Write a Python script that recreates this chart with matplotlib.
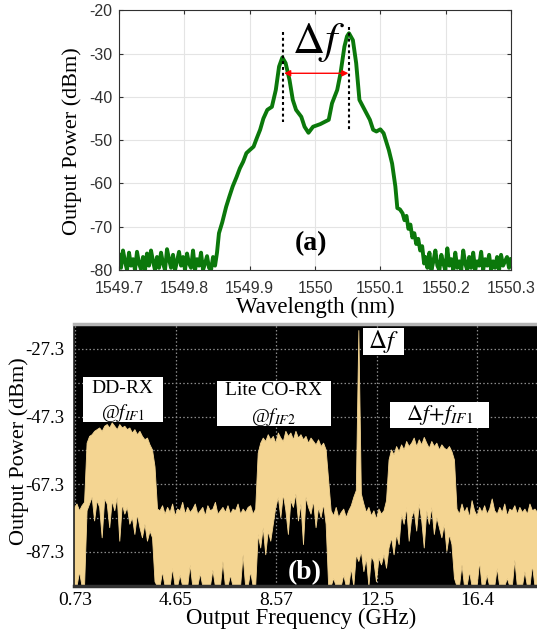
import numpy as np
import matplotlib
matplotlib.use('Agg')
import matplotlib.pyplot as plt
from matplotlib.patches import Rectangle

plt.rcParams['font.family'] = ['Liberation Serif', 'DejaVu Serif']
plt.rcParams['mathtext.fontset'] = 'stix'

# ---- (a) optical spectrum ----
# noise floor left of the signal (1549.700 .. 1549.847 nm)
noise_left = [-76.5, -79.5, -75.5, -78, -80, -76, -79, -77.5, -80, -75.8,
              -78.5, -79.8, -77, -80, -76.2, -79, -75.5, -78, -80, -77,
              -79.5, -76, -78.5, -80, -75.2, -77.5, -79.5, -76.5, -80, -78,
              -75.8, -79, -77, -80, -76.2, -78.5, -79.5, -75.5, -80, -77.5,
              -79, -76, -80, -78.5, -76.8, -79.5, -80, -77, -79]
wl_body = [1549.850, 1549.853, 1549.858, 1549.864, 1549.869, 1549.874, 1549.880,
           1549.885, 1549.890, 1549.895, 1549.900, 1549.906, 1549.911, 1549.916,
           1549.921, 1549.927, 1549.934, 1549.940, 1549.945, 1549.950, 1549.955,
           1549.961, 1549.966, 1549.971, 1549.979, 1549.984, 1549.990, 1549.997,
           1550.008, 1550.016, 1550.021, 1550.026, 1550.034, 1550.039, 1550.045,
           1550.049, 1550.052, 1550.058, 1550.063, 1550.068, 1550.076, 1550.084,
           1550.089, 1550.094, 1550.100, 1550.105, 1550.113, 1550.118, 1550.123,
           1550.126, 1550.130, 1550.134, 1550.137, 1550.140, 1550.143, 1550.146,
           1550.149, 1550.152, 1550.155, 1550.158, 1550.161, 1550.164, 1550.167]
pw_body = [-76, -71.5, -69, -65.4, -63, -60.7, -58.5,
           -56.5, -55, -53, -52.3, -51.5, -49.5, -47.6,
           -45, -43, -42.3, -38.4, -33, -30.9, -32.2,
           -36.1, -40.7, -43, -44.6, -46.9, -48.3, -46.9,
           -46.3, -45.7, -45.3, -41.5, -38.4, -34.6, -28.4,
           -26, -25.3, -26.9, -32.2, -40.7, -43, -45.3,
           -47.6, -48, -47.5, -48.4, -52.3, -55.4, -60.7,
           -65.7, -66, -66.9, -68.5, -67.5, -70.5, -69.5,
           -72.5, -71.5, -74, -72.8, -75.5, -74.5, -78.5]
# noise floor right of the signal (1550.169 .. 1550.300 nm)
noise_right = [-77, -79.5, -76, -80, -78, -75.5, -79, -80, -76.5, -78.5,
               -80, -75, -79, -77.5, -80, -76, -79.5, -78, -80, -75.5,
               -78.5, -80, -77, -79.5, -76, -80, -78, -79, -75.8, -80,
               -77.5, -79, -76.5, -80, -78, -79.5, -77, -80, -76.5, -79,
               -78, -77, -79.5, -77.5]
wl_ticks = [1549.7, 1549.8, 1549.9, 1550.0, 1550.1, 1550.2, 1550.3]
wl_ticklabels = ['1549.7', '1549.8', '1549.9', '1550', '1550.1', '1550.2', '1550.3']
pw_ticks = [-80, -70, -60, -50, -40, -30, -20]
peak_left = 1549.9507
peak_right = 1550.0522

# ---- (b) electrical spectrum (max / min hold envelopes, dBm) ----
up_edge = [-74, -73, -75, -73.5, -72.5]
lo_edge = [-97.4, -97.4, -93, -97.4, -97.4]
up_if1 = [-55, -53, -52.5, -51.5, -51, -50.5, -51.5, -50, -49.5, -50.5,
          -49, -50, -51, -49.5, -50.5, -50, -51, -50.5, -52, -51,
          -52.5, -51.5, -53, -54, -53.5, -55.5, -57, -62]
lo_if1 = [-75, -73, -71, -78, -72, -74, -83, -71.5, -73, -80,
          -72, -75, -71, -84, -73, -76, -74, -79, -77, -82,
          -76, -80, -83, -79, -84, -81, -83, -96]
up_gap1 = [-74.5, -75, -73.5, -76, -74, -75.5, -73, -76.5, -74.5, -75,
           -72.5, -76, -74, -75.5, -74.5, -73, -76, -75, -74, -76.5,
           -73.5, -75, -74.5, -72.5, -76, -75, -74, -75.5, -73.5, -76,
           -74.5, -75, -73, -76, -74.5, -75.5, -74, -73.5, -76, -74.5]
lo_gap1 = [-97.4, -97.4, -93, -97.4, -97.4, -97.4, -92, -97.4, -97.4, -94,
           -97.4, -97.4, -97.4, -91, -97.4, -97.4, -97.4, -93.5, -97.4, -97.4,
           -97.4, -97.4, -92.5, -97.4, -97.4, -97.4, -90, -97.4, -97.4, -94,
           -97.4, -97.4, -97.4, -97.4, -88, -97.4, -97.4, -93, -97.4, -97.4]
up_if2 = [-58, -55, -53.5, -54.5, -52.5, -54, -53, -55, -52, -53.5,
          -54.5, -51.5, -53, -52, -54, -51.5, -53.5, -52.5, -54, -53,
          -55, -53.5, -54.5, -55.5, -54, -56, -55, -57]
lo_if2 = [-82, -86, -80, -88, -81, -84, -79, -74, -71, -77,
          -70, -75, -82, -72, -74, -70, -78, -73, -85, -71,
          -74, -76, -72, -80, -74, -77, -73, -79]
up_gap2 = [-66, -75, -76.5, -74, -77, -75.5, -74.5, -77, -75, -73.5,
           -71, -69, -21.7, -70, -73, -75.5, -74, -76.5, -75, -77.5,
           -74.5, -76, -75, -72]
lo_gap2 = [-97.4, -97.4, -95, -97.4, -97.4, -97.4, -94, -97.4, -97.4, -92,
           -97.4, -88, -90, -87, -93, -89, -97.4, -88.5, -90, -96,
           -89, -91, -88, -92]
up_if3 = [-60, -57, -58.5, -56, -57.5, -55.5, -57, -54.5, -56, -55,
          -53.5, -56, -54, -55.5, -53.3, -55, -56.5, -54.5, -56, -55,
          -57, -55.5, -56.5, -57, -56, -57.5, -60]
lo_if3 = [-86, -83, -88, -82, -85, -76, -79, -74, -84, -77,
          -75, -81, -73, -78, -86, -75, -79, -74, -82, -77,
          -80, -83, -79, -87, -82, -85, -95]
up_tail = [-74.5, -76, -73, -75.5, -74, -77, -72, -75, -76.5, -74,
           -75.5, -73.5, -76, -74.5, -71.5, -75, -76, -74, -75.5, -73,
           -76.5, -74.5, -75, -73.5, -76, -74, -75.5, -74.5, -76, -73,
           -75, -74.5, -75.5]
lo_tail = [-97.4, -97.4, -91, -97.4, -97.4, -93, -97.4, -97.4, -97.4, -90,
           -97.4, -97.4, -94, -97.4, -97.4, -97.4, -92, -97.4, -97.4, -97.4,
           -95, -97.4, -97.4, -89.5, -97.4, -97.4, -97.4, -93, -97.4, -97.4,
           -91, -97.4, -97.4]
freq_ticks = [0.73, 4.65, 8.57, 12.5, 16.4]
freq_ticklabels = ['0.73', '4.65', '8.57', '12.5', '16.4']
dbm_ticks = [-87.3, -67.3, -47.3, -27.3]
dbm_minor = [-97.3, -77.3, -57.3, -37.3]

upper = np.concatenate([up_edge, up_if1, up_gap1, up_if2, up_gap2, up_if3, up_tail])
lower = np.concatenate([lo_edge, lo_if1, lo_gap1, lo_if2, lo_gap2, lo_if3, lo_tail])
n = min(len(upper), len(lower))
upper, lower = upper[:n], lower[:n]
freq = np.linspace(0.69, 18.72, n)

fig = plt.figure(figsize=(5.37, 6.36), dpi=100)

# ---------------- panel (a) ----------------
ax1 = fig.add_axes([0.2216, 0.5755, 0.7300, 0.4083])
wl = np.concatenate([np.linspace(1549.700, 1549.847, len(noise_left)), wl_body,
                     np.linspace(1550.169, 1550.300, len(noise_right))])
pw = np.concatenate([noise_left, pw_body, noise_right])
ax1.plot(wl, pw, color='#0b780b', lw=2.8, solid_joinstyle='round')
ax1.plot([peak_left, peak_left], [-24.9, -45.7], color='k', lw=1.5, ls=(0, (1.4, 1.4)))
ax1.plot([peak_right, peak_right], [-23.8, -47.6], color='k', lw=1.5, ls=(0, (1.4, 1.4)))
ax1.annotate('', xy=(peak_left + 0.002, -34.55), xytext=(peak_right - 0.001, -34.55),
             arrowprops=dict(arrowstyle='<|-|>', color='red', lw=1.0,
                             mutation_scale=9, shrinkA=0, shrinkB=0))
ax1.text(1550.006, -29.9, r'$\Delta f$', fontsize=32, ha='center', va='baseline')
ax1.text(1549.994, -74, '(a)', fontsize=20, fontweight='bold', ha='center', va='center')
ax1.set_xlim(1549.7, 1550.3)
ax1.set_ylim(-80, -20)
ax1.set_xticks(wl_ticks)
ax1.set_xticklabels(wl_ticklabels, fontfamily='Liberation Sans', fontsize=11.5, color='#303030')
ax1.set_yticks(pw_ticks)
ax1.set_yticklabels([str(v) for v in pw_ticks], fontfamily='Liberation Sans',
                    fontsize=11.5, color='#303030')
ax1.tick_params(direction='in', length=3, top=True, right=True, color='#303030')
ax1.tick_params(axis='x', pad=8)
ax1.tick_params(axis='y', pad=5)
ax1.grid(True, color='#e4e4e4', lw=0.8)
ax1.set_axisbelow(True)
for s in ax1.spines.values():
    s.set_color('#303030')
    s.set_linewidth(0.8)
fig.text(72 / 537, 1 - 141 / 636, 'Output Power (dBm)', rotation=90, fontsize=16,
         ha='center', va='center')
fig.text(315 / 537, 1 - 307 / 636, 'Wavelength (nm)', fontsize=16.5,
         ha='center', va='center')

# ---------------- panel (b) ----------------
tan = '#f4d592'
ax2 = fig.add_axes([0.1378, 0.0786, 0.8622, 0.4120])
ax2.set_facecolor('black')
ax2.fill_between(freq, lower, upper, color=tan, lw=0.6, edgecolor=tan)
ax2.set_xlim(0.69, 18.72)
ax2.set_ylim(-97.4, -19.9)
ax2.set_xticks(freq_ticks)
ax2.set_xticklabels(freq_ticklabels, fontsize=14)
ax2.set_yticks(dbm_ticks)
ax2.set_yticklabels([str(v) for v in dbm_ticks], fontsize=13.5)
ax2.set_yticks(dbm_minor, minor=True)
ax2.tick_params(which='both', length=0)
ax2.tick_params(axis='x', pad=4)
ax2.tick_params(axis='y', pad=7)
ax2.grid(True, which='both', color='#8c8c8c', lw=0.9, ls=(0, (1.2, 1.8)))
ax2.set_axisbelow(True)
ax2.spines['top'].set_color('#b4b4b4')
ax2.spines['top'].set_linewidth(2.5)
ax2.spines['bottom'].set_color('#333333')
ax2.spines['bottom'].set_linewidth(2.5)
ax2.spines['left'].set_color('#222222')
ax2.spines['left'].set_linewidth(1.2)
ax2.spines['right'].set_visible(False)

labels_b = [
    ((1.03, 4.144, -48.9, -35.58), [('DD-RX', 2.587, -38.84, 14), (r'@$f_{\mathit{IF1}}$', 2.587, -46.24, 14)]),
    ((6.25, 10.68, -50.08, -36.77), [('Lite CO-RX', 8.46, -39.64, 14), (r'@$f_{\mathit{IF2}}$', 8.46, -47.33, 14)]),
    ((11.95, 13.54, -29.08, -21.18), [(r'$\Delta f$', 12.75, -25.14, 18)]),
    ((12.99, 16.86, -50.76, -43.07), [(r'$\Delta f\!+\!f_{\mathit{IF1}}$', 14.94, -46.83, 16)]),
]
for (f0, f1, d0, d1), texts in labels_b:
    ax2.add_patch(Rectangle((f0, d0), f1 - f0, d1 - d0, facecolor='white',
                            edgecolor='none', zorder=3))
    for s, x, y, fs in texts:
        ax2.text(x, y, s, fontsize=fs, ha='center', va='center', zorder=4)
ax2.text(9.68, -93.3, '(b)', fontsize=20, fontweight='bold', color='white',
         ha='center', va='center', zorder=4)

fig.text(19 / 537, 1 - 451 / 636, 'Output Power (dBm)', rotation=90, fontsize=16,
         ha='center', va='center')
fig.text(301 / 537, 1 - 618 / 636, 'Output Frequency (GHz)', fontsize=16.5,
         ha='center', va='center')

fig.savefig('out.png', dpi=100, facecolor='white')
